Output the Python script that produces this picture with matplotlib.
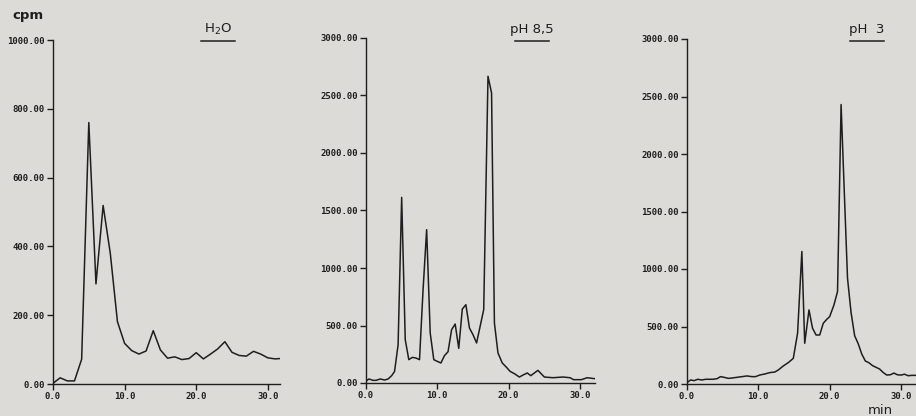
import matplotlib.pyplot as plt

# H2O run
t_h2o = [0, 1, 2, 3, 4, 5, 6, 7, 8, 9, 10, 11, 12, 13, 14, 15, 16, 17, 18, 19,
         20, 21, 22, 23, 24, 25, 26, 27, 28, 29, 30, 31, 31.7]
cpm_h2o = [2, 18, 9, 9, 72, 760, 291, 519, 380, 181, 118, 97, 87, 96, 155, 99, 75, 79, 71, 74,
           91, 73, 87, 102, 123, 92, 83, 81, 95, 87, 76, 73, 74]

# pH 8,5 run
t_ph85 = [0, 0.4, 1.0, 1.4, 2.0, 2.6, 3.1, 3.6, 4.0, 4.5, 5.0, 5.5, 6.0, 6.5, 7.0, 7.5, 8.0, 8.5,
          9.0, 9.5, 10.0, 10.5, 11.0, 11.5, 12.0, 12.5, 13.0, 13.5, 14.0, 14.5, 15.0, 15.5, 16.0,
          16.5, 17.1, 17.6, 18.0, 18.5, 19.1, 19.7, 20.2, 20.8, 21.5, 22.1, 22.6, 23.1, 24.1,
          25.0, 26.2, 27.6, 28.6, 29.1, 30.2, 31.0, 32.0]
cpm_ph85 = [15, 35, 23, 23, 35, 26, 35, 64, 100, 333, 1614, 377, 203, 223, 217, 203, 812, 1333,
            435, 203, 188, 174, 238, 272, 464, 513, 301, 643, 681, 478, 420, 348, 493,
            638, 2667, 2522, 522, 261, 174, 136, 101, 81, 52, 72, 87, 64, 110,
            52, 46, 52, 46, 29, 29, 46, 38]

# pH 3 run
t_ph3 = [0, 0.5, 1.0, 1.5, 2.1, 2.6, 3.1, 3.6, 4.2, 4.7, 5.2, 5.8, 6.3, 7.0, 7.7, 8.4, 9.1, 9.6,
         10.2, 10.9, 11.6, 12.3, 12.8, 13.5, 14.2, 14.9, 15.5, 16.1, 16.5, 17.1, 17.6, 18.1,
         18.6, 19.1, 19.6, 20.0, 20.6, 21.1, 21.6, 22.0, 22.5, 23.0, 23.5, 24.0, 24.5, 25.0,
         25.5, 26.0, 26.5, 27.0, 27.5, 28.0, 28.5, 29.0, 29.5, 30.0, 30.5, 31.0, 31.5, 32.0]
cpm_ph3 = [12, 35, 29, 41, 35, 41, 41, 41, 46, 64, 58, 49, 52, 58, 64, 70, 64, 64,
           78, 87, 99, 104, 122, 157, 186, 223, 441, 1152, 354, 644, 484, 426,
           426, 528, 563, 586, 688, 804, 2430, 1750, 920, 620, 420, 350, 260, 200,
           185, 160, 145, 130, 100, 78, 80, 95, 80, 78, 85, 72, 75, 75]

bg = '#dddbd7'
ink = '#1e1e1e'

fig = plt.figure(figsize=(9.16, 4.16), dpi=100, facecolor=bg)

panels = [
    ([53/916, 32/416, 227/916, 344/416], t_h2o, cpm_h2o, 1000, 200, 31.7, 'H$_2$O', 218),
    ([366/916, 33/416, 229/916, 345/416], t_ph85, cpm_ph85, 3000, 500, 32.1, 'pH 8,5', 532),
    ([687/916, 32/416, 229/916, 345/416], t_ph3, cpm_ph3, 3000, 500, 32.1, 'pH  3', 867),
]

for rect, t, v, ymax, ystep, xmax, title, tx in panels:
    ax = fig.add_axes(rect)
    ax.set_facecolor(bg)
    ax.plot(t, v, color=ink, lw=1.1)
    ax.set_xlim(0, xmax)
    ax.set_ylim(0, ymax)
    ax.set_xticks([0, 10, 20, 30])
    ax.set_yticks(range(0, ymax + 1, ystep))
    ax.set_xticklabels([f"{x:.1f}" for x in [0, 10, 20, 30]])
    ax.set_yticklabels([f"{y:.2f}" for y in range(0, ymax + 1, ystep)])
    for s in ['top', 'right']:
        ax.spines[s].set_visible(False)
    for s in ['left', 'bottom']:
        ax.spines[s].set_color(ink)
        ax.spines[s].set_linewidth(1.0)
    ax.tick_params(colors=ink, length=4, width=1.0, pad=2, labelsize=6.5)
    for lab in ax.get_xticklabels() + ax.get_yticklabels():
        lab.set_fontfamily('DejaVu Sans Mono')
        lab.set_fontweight('bold')
    fig.text(tx / 916, 1 - 29 / 416, title, ha='center', va='center',
             fontsize=9.5, color=ink)
    fig.add_artist(plt.Line2D([(tx - 17) / 916, (tx + 17) / 916], [1 - 41 / 416] * 2,
                              color=ink, lw=1.1))

fig.text(12 / 916, 1 - 15 / 416, 'cpm', ha='left', va='center', fontsize=9.5,
         color=ink, fontweight='bold')
fig.text(880 / 916, 1 - 410 / 416, 'min', ha='center', va='center', fontsize=9.5,
         color=ink)

fig.savefig('out.png', dpi=100, facecolor=bg)
